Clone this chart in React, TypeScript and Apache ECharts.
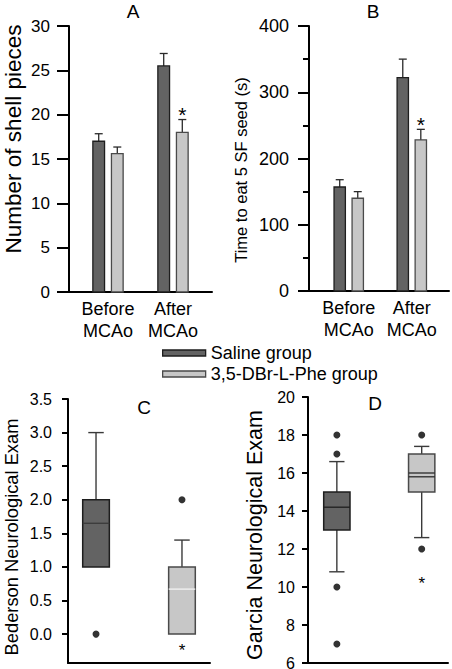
import React, { useEffect, useRef } from 'react';
import * as echarts from 'echarts';

// ---------- data ----------
const groups = ['Before\nMCAo', 'After\nMCAo'];
const seriesNames = ['Saline group', '3,5-DBr-L-Phe group'];

// Panel A: number of shell pieces (mean, SEM)
const shellSaline = [17.0, 25.5];
const shellSalineErr = [0.85, 1.4];
const shellDBr = [15.6, 18.0];
const shellDBrErr = [0.75, 1.45];
const shellSig = [0, 1];

// Panel B: time to eat 5 SF seed (s)
const seedSaline = [157, 322];
const seedSalineErr = [11, 28];
const seedDBr = [140, 228];
const seedDBrErr = [10, 16];
const seedSig = [0, 1];

// Panel C: Bederson exam  [lower whisker, Q1, Q3, upper whisker]
const bedersonSaline = [1.0, 1.0, 2.0, 3.0];
const bedersonSalineLines = [1.65];
const bedersonDBr = [0.0, 0.0, 1.0, 1.4];
const bedersonDBrLines = [0.67];
const bedersonOutSaline = [0];
const bedersonOutDBr = [2];
const bedersonStar = -0.18;
const bedersonTicks = [0, 0.5, 1.0, 1.5, 2.0, 2.5, 3.0, 3.5];

// Panel D: Garcia exam
const garciaSaline = [10.8, 13.0, 15.0, 16.6];
const garciaSalineLines = [14.2];
const garciaDBr = [12.6, 15.0, 17.0, 17.4];
const garciaDBrLines = [16.0, 15.8];
const garciaOutSaline = [18, 17, 10, 7];
const garciaOutDBr = [18, 12];
const garciaStar = 10.4;

// axis titles
const axisNames = ['Number of shell pieces', 'Time to eat 5 SF seed (s)', 'Bederson Neurological Exam', 'Garcia Neurological Exam'];
const panelLabels = ['A', 'B', 'C', 'D'];

// ---------- styles ----------
const FONT = '"Liberation Sans", Arial, Helvetica, sans-serif';
const DARK = '#636363';
const DARK_BORDER = '#1e1e1e';
const LIGHT = '#c7c7c7';
const LIGHT_BORDER = '#4a4a4a';
const BAR_W = 0.18;
const BAR_OFF = 0.143;
const BOX_W = 0.31;
const CAP_W = 0.18;

const textStyle = (text: string, size: number) => ({
  text, fill: '#000', font: `${size}px ${FONT}`,
  align: 'center', verticalAlign: 'middle', textAlign: 'center', textVerticalAlign: 'middle',
});

const makeBarRender = (offset: number, fill: string, stroke: string) => (params: any, api: any) => {
  const x = api.value(0) + offset;
  const v = api.value(1);
  const e = api.value(2);
  const sig = api.value(3);
  const top = api.coord([x, v]);
  const base = api.coord([x, 0]);
  const errTop = api.coord([x, v + e]);
  const w = api.size([BAR_W, 0])[0];
  const children: any[] = [
    { type: 'line', shape: { x1: top[0], y1: top[1], x2: top[0], y2: errTop[1] }, style: { stroke: '#2a2a2a', lineWidth: 1.3 } },
    { type: 'line', shape: { x1: top[0] - 4, y1: errTop[1], x2: top[0] + 4, y2: errTop[1] }, style: { stroke: '#2a2a2a', lineWidth: 1.3 } },
    { type: 'rect', shape: { x: top[0] - w / 2, y: top[1], width: w, height: base[1] - top[1] }, style: { fill, stroke, lineWidth: 1.3 } },
  ];
  if (sig) {
    children.push({ type: 'text', x: top[0], y: errTop[1] - 5, style: textStyle('*', 21) });
  }
  return { type: 'group', children };
};

const makeBoxRender = (fill: string, stroke: string, lineSets: number[][], lineColor: string) => (params: any, api: any) => {
  const x = api.value(0);
  const lo = api.value(1), q1 = api.value(2), q3 = api.value(3), hi = api.value(4);
  const w = api.size([BOX_W, 0])[0];
  const cw = api.size([CAP_W, 0])[0];
  const pLo = api.coord([x, lo]);
  const pQ1 = api.coord([x, q1]);
  const pQ3 = api.coord([x, q3]);
  const pHi = api.coord([x, hi]);
  const wl = { stroke: '#3a3a3a', lineWidth: 1.4 };
  const children: any[] = [];
  if (hi > q3) {
    children.push({ type: 'line', shape: { x1: pQ3[0], y1: pQ3[1], x2: pHi[0], y2: pHi[1] }, style: wl });
    children.push({ type: 'line', shape: { x1: pHi[0] - cw / 2, y1: pHi[1], x2: pHi[0] + cw / 2, y2: pHi[1] }, style: wl });
  }
  if (lo < q1) {
    children.push({ type: 'line', shape: { x1: pQ1[0], y1: pQ1[1], x2: pLo[0], y2: pLo[1] }, style: wl });
    children.push({ type: 'line', shape: { x1: pLo[0] - cw / 2, y1: pLo[1], x2: pLo[0] + cw / 2, y2: pLo[1] }, style: wl });
  }
  children.push({ type: 'rect', shape: { x: pQ3[0] - w / 2, y: pQ3[1], width: w, height: pQ1[1] - pQ3[1] }, style: { fill, stroke, lineWidth: 1.5 } });
  const lines = lineSets[params.dataIndex] || [];
  lines.forEach((lv) => {
    const p = api.coord([x, lv]);
    children.push({ type: 'line', shape: { x1: p[0] - w / 2, y1: p[1], x2: p[0] + w / 2, y2: p[1] }, style: { stroke: lineColor, lineWidth: 1.3 } });
  });
  return { type: 'group', children };
};

const starRender = (params: any, api: any) => {
  const p = api.coord([api.value(0), api.value(1)]);
  return { type: 'text', x: p[0], y: p[1] + 4, style: textStyle('*', 17) };
};

const axisLineStyle = { show: true, onZero: false, lineStyle: { color: '#000', width: 2 } };

function buildOption(): any {
  const barX = (gi: number, min: number, max: number) => ({
    gridIndex: gi, type: 'value', min, max,
    axisLine: axisLineStyle, axisTick: { show: false }, splitLine: { show: false },
    axisLabel: {
      customValues: [1, 2], formatter: (v: number) => groups[Math.round(v) - 1] || '',
      fontSize: 18, lineHeight: 22, margin: 6, color: '#000', fontFamily: FONT,
    },
  });
  const boxX = (gi: number, min: number, max: number) => ({
    gridIndex: gi, type: 'value', min, max,
    axisLine: axisLineStyle, axisTick: { show: false }, splitLine: { show: false }, axisLabel: { show: false },
  });

  const titles = [
    { x: 133, y: 11 },
    { x: 373, y: 11 },
    { x: 144, y: 407 },
    { x: 375, y: 403 },
  ];
  const names = [
    { x: 13, y: 139, size: 22.5 },
    { x: 241, y: 170, size: 16.5 },
    { x: 11, y: 537, size: 18.3 },
    { x: 255, y: 535, size: 21.5 },
  ];

  return {
    animation: false,
    backgroundColor: '#fff',
    textStyle: { fontFamily: FONT },
    grid: [
      { left: 69, top: 26, width: 143, height: 266, outerBoundsMode: 'none' },
      { left: 309, top: 26, width: 140, height: 265, outerBoundsMode: 'none' },
      { left: 68, top: 399, width: 142, height: 264, outerBoundsMode: 'none' },
      { left: 308, top: 397, width: 140, height: 266, outerBoundsMode: 'none' },
    ],
    xAxis: [barX(0, 0.4, 2.6), barX(1, 0.37, 2.59), boxX(2, 0.674, 2.326), boxX(3, 0.66, 2.31)],
    yAxis: [
      {
        gridIndex: 0, type: 'value', min: 0, max: 30, interval: 5,
        axisLine: axisLineStyle, axisTick: { show: true, length: 12, lineStyle: { color: '#000', width: 2 } },
        splitLine: { show: false },
        axisLabel: { fontSize: 17, margin: 19, color: '#000', fontFamily: FONT },
      },
      {
        gridIndex: 1, type: 'value', min: 0, max: 400, interval: 100,
        axisLine: axisLineStyle, axisTick: { show: true, length: 11, lineStyle: { color: '#000', width: 2 } },
        minorTick: { show: true, splitNumber: 2, length: 6, lineStyle: { color: '#000', width: 2 } },
        splitLine: { show: false },
        axisLabel: { fontSize: 18, margin: 20, color: '#000', fontFamily: FONT },
      },
      {
        gridIndex: 2, type: 'value', min: -0.43, max: 3.5,
        axisLine: axisLineStyle, axisTick: { show: true, length: 6, customValues: bedersonTicks, lineStyle: { color: '#000', width: 2 } },
        splitLine: { show: false },
        axisLabel: { customValues: bedersonTicks, formatter: (v: number) => v.toFixed(1), fontSize: 16, margin: 16, color: '#000', fontFamily: FONT },
      },
      {
        gridIndex: 3, type: 'value', min: 6, max: 20, interval: 2,
        axisLine: axisLineStyle, axisTick: { show: true, length: 6, lineStyle: { color: '#000', width: 2 } },
        splitLine: { show: false },
        axisLabel: { fontSize: 16, margin: 13, color: '#000', fontFamily: FONT },
      },
    ],
    legend: {
      data: [
        { name: seriesNames[0], icon: 'rect', itemStyle: { color: DARK, borderColor: DARK_BORDER, borderWidth: 1.3 } },
        { name: seriesNames[1], icon: 'rect', itemStyle: { color: LIGHT, borderColor: LIGHT_BORDER, borderWidth: 1.3 } },
      ],
      orient: 'vertical', left: 157, top: 339, itemWidth: 43, itemHeight: 6, itemGap: 3,
      selectedMode: false,
      textStyle: { fontSize: 18, lineHeight: 18, color: '#000', fontFamily: FONT },
    },
    graphic: [
      ...titles.map((t, i) => ({ type: 'text', x: t.x, y: t.y, style: textStyle(panelLabels[i], 19) })),
      ...names.map((n, i) => ({ type: 'text', x: n.x, y: n.y, rotation: Math.PI / 2, style: textStyle(axisNames[i], n.size) })),
    ],
    series: [
      {
        name: seriesNames[0], type: 'custom', xAxisIndex: 0, yAxisIndex: 0, color: DARK,
        renderItem: makeBarRender(-BAR_OFF, DARK, DARK_BORDER),
        data: shellSaline.map((v, i) => [i + 1, v, shellSalineErr[i], 0]),
      },
      {
        name: seriesNames[1], type: 'custom', xAxisIndex: 0, yAxisIndex: 0, color: LIGHT,
        renderItem: makeBarRender(BAR_OFF, LIGHT, LIGHT_BORDER),
        data: shellDBr.map((v, i) => [i + 1, v, shellDBrErr[i], shellSig[i]]),
      },
      {
        name: seriesNames[0], type: 'custom', xAxisIndex: 1, yAxisIndex: 1, color: DARK,
        renderItem: makeBarRender(-BAR_OFF, DARK, DARK_BORDER),
        data: seedSaline.map((v, i) => [i + 1, v, seedSalineErr[i], 0]),
      },
      {
        name: seriesNames[1], type: 'custom', xAxisIndex: 1, yAxisIndex: 1, color: LIGHT,
        renderItem: makeBarRender(BAR_OFF, LIGHT, LIGHT_BORDER),
        data: seedDBr.map((v, i) => [i + 1, v, seedDBrErr[i], seedSig[i]]),
      },
      {
        type: 'custom', xAxisIndex: 2, yAxisIndex: 2,
        renderItem: makeBoxRender(DARK, DARK_BORDER, [bedersonSalineLines], '#3a3a3a'),
        data: [[1, ...bedersonSaline]],
      },
      {
        type: 'custom', xAxisIndex: 2, yAxisIndex: 2,
        renderItem: makeBoxRender(LIGHT, LIGHT_BORDER, [bedersonDBrLines], '#f4f4f4'),
        data: [[2, ...bedersonDBr]],
      },
      {
        type: 'custom', xAxisIndex: 3, yAxisIndex: 3,
        renderItem: makeBoxRender(DARK, DARK_BORDER, [garciaSalineLines], '#1e1e1e'),
        data: [[1, ...garciaSaline]],
      },
      {
        type: 'custom', xAxisIndex: 3, yAxisIndex: 3,
        renderItem: makeBoxRender(LIGHT, LIGHT_BORDER, [garciaDBrLines], '#2a2a2a'),
        data: [[2, ...garciaDBr]],
      },
      {
        type: 'scatter', xAxisIndex: 2, yAxisIndex: 2, symbolSize: 7, itemStyle: { color: '#000' },
        data: [...bedersonOutSaline.map((v) => [1, v]), ...bedersonOutDBr.map((v) => [2, v])],
      },
      {
        type: 'scatter', xAxisIndex: 3, yAxisIndex: 3, symbolSize: 7, itemStyle: { color: '#000' },
        data: [...garciaOutSaline.map((v) => [1, v]), ...garciaOutDBr.map((v) => [2, v])],
      },
      { type: 'custom', xAxisIndex: 2, yAxisIndex: 2, renderItem: starRender, data: [[2, bedersonStar]] },
      { type: 'custom', xAxisIndex: 3, yAxisIndex: 3, renderItem: starRender, data: [[2, garciaStar]] },
    ],
  };
}

export default function App() {
  const ref = useRef<HTMLDivElement>(null);
  useEffect(() => {
    if (!ref.current) return;
    const chart = echarts.init(ref.current, undefined, { renderer: 'svg' });
    chart.setOption(buildOption());
    return () => chart.dispose();
  }, []);
  return <div ref={ref} style={{ width: 452, height: 669, position: 'absolute', left: 0, top: 0 }} />;
}
